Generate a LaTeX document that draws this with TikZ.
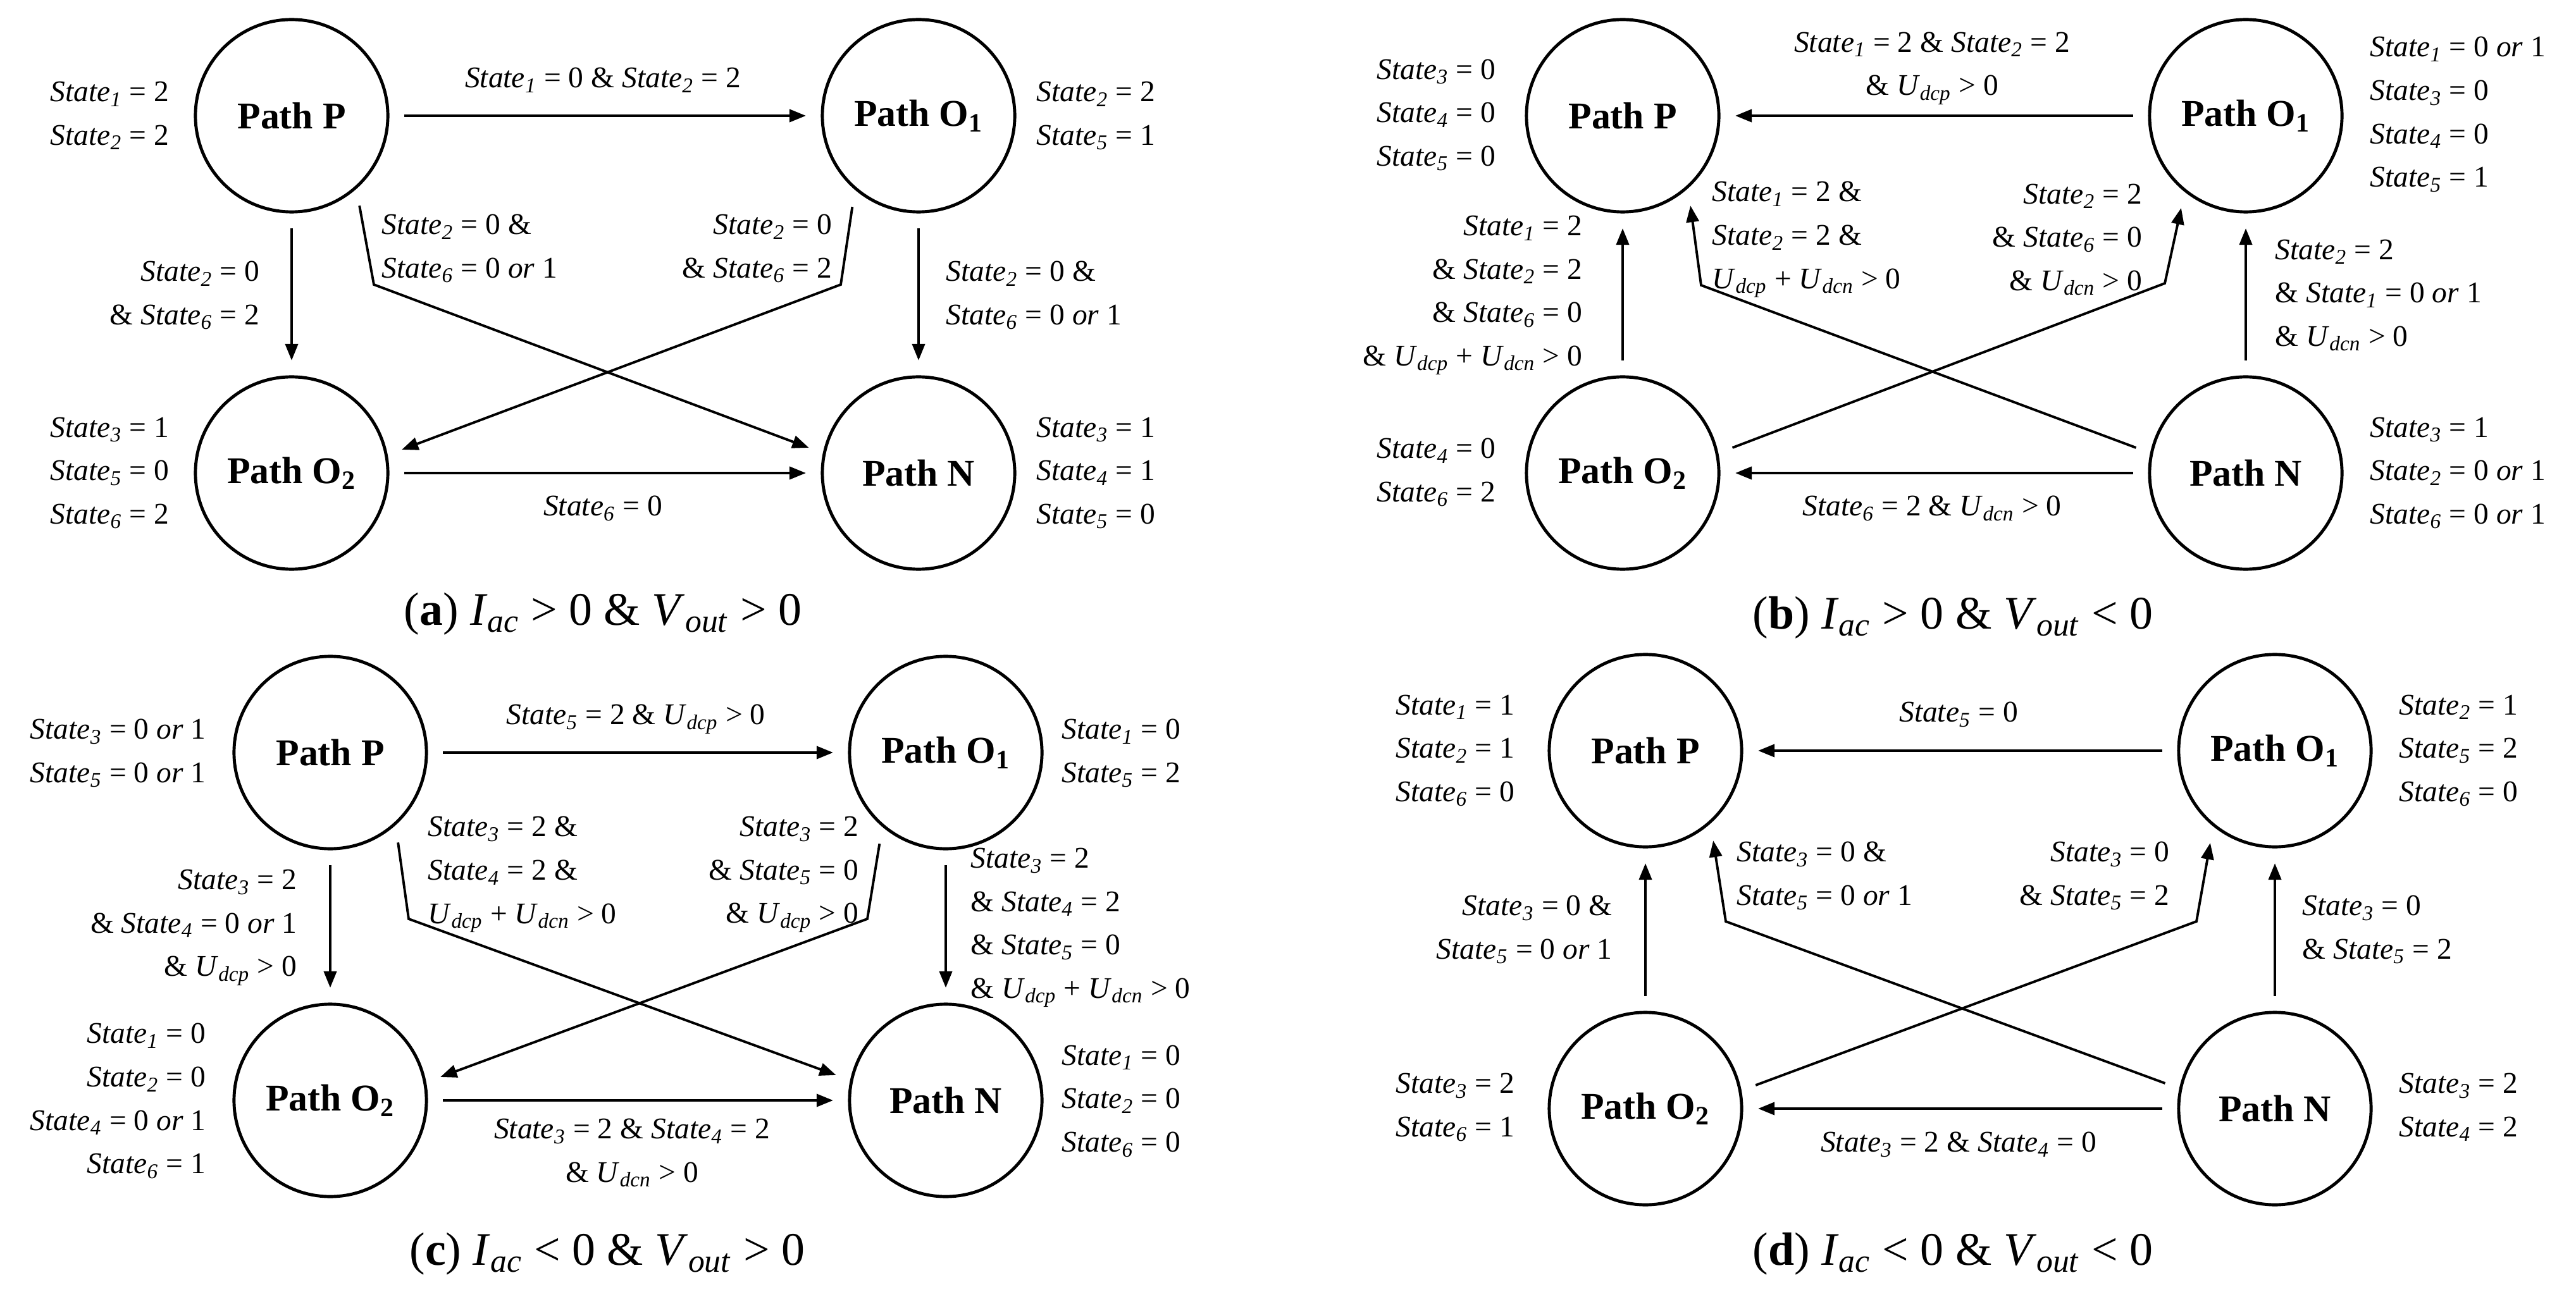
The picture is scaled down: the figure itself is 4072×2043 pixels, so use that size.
\documentclass[tikz,border=0pt]{standalone}
\usepackage{fontspec}
\setmainfont{Liberation Serif}
\usetikzlibrary{arrows.meta}
\newcommand\St[1]{\textit{State}\textsubscript{\textit{#1}}}
\newcommand\Uu[1]{\textit{U}\textsubscript{\textit{#1}}}
\newcommand\orr{\textit{or}}
\begin{document}
\begin{tikzpicture}[x=0.01cm,y=-0.01cm,
 circ/.style={circle,draw,line width=1.4pt,minimum size=3.04cm,inner sep=0pt,outer sep=0.26cm,font=\bfseries\fontsize{17}{20}\selectfont},
 arr/.style={line width=1.1pt,-{Triangle[length=0.26cm,width=0.2cm]}},
 lab/.style={font=\fontsize{13.5}{19.5}\selectfont,inner sep=0pt},
 R/.style={lab,align=right,anchor=east},
 L/.style={lab,align=left,anchor=west},
 C/.style={lab,align=center},
 capt/.style={font=\fontsize{21}{24}\selectfont,inner sep=0pt}]
\useasboundingbox (0,0) rectangle (4072,2043);
% ---------- (a)
\node[circ] (aP) at (461,183) {Path P};
\node[circ] (aO1) at (1452,183) {Path O\textsubscript{1}};
\node[circ] (aO2) at (461,748) {Path O\textsubscript{2}};
\node[circ] (aN) at (1452,748) {Path N};
\coordinate (ab1) at (591,450);
\coordinate (ab2) at (1329,450);
\draw[arr] (aP) -- (aO1);
\draw[arr] (aP) -- (aO2);
\draw[arr] (aO1) -- (aN);
\draw[arr] (aO2) -- (aN);
\draw[arr] (aP.-53.4) -- (ab1) -- (aN.167.4);
\draw[arr] (aO1.-126) -- (ab2) -- (aO2.12);
\node[C] (at1) at (953,127) {\St{1} = 0 \& \St{2} = 2};
\node[R] (at2) at (268,183) {\St{1} = 2\\\St{2} = 2};
\node[L] (at3) at (1638,183) {\St{2} = 2\\\St{5} = 1};
\node[R] (at4) at (268,748) {\St{3} = 1\\\St{5} = 0\\\St{6} = 2};
\node[L] (at5) at (1638,748) {\St{3} = 1\\\St{4} = 1\\\St{5} = 0};
\node[R] (at6) at (411,467) {\St{2} = 0\\\& \St{6} = 2};
\node[L] (at7) at (1495,467) {\St{2} = 0 \&\\\St{6} = 0 \orr{} 1};
\node[L] (at8) at (603,393) {\St{2} = 0 \&\\\St{6} = 0 \orr{} 1};
\node[R] (at9) at (1316,393) {\St{2} = 0\\\& \St{6} = 2};
\node[C] (at10) at (953,804) {\St{6} = 0};
\node[capt] (acap) at (953,971) {(\textbf{a}) \textit{I}\textsubscript{\textit{ac}} > 0 \& \textit{V}\textsubscript{\textit{out}} > 0};
% ---------- (b)
\node[circ] (bP) at (2565,183) {Path P};
\node[circ] (bO1) at (3550,183) {Path O\textsubscript{1}};
\node[circ] (bO2) at (2565,748) {Path O\textsubscript{2}};
\node[circ] (bN) at (3550,748) {Path N};
\coordinate (bb1) at (2689,451);
\coordinate (bb2) at (3422,448);
\draw[arr] (bO1) -- (bP);
\draw[arr] (bO2) -- (bP);
\draw[arr] (bN) -- (bO1);
\draw[arr] (bN) -- (bO2);
\draw[arr] (bN.167) -- (bb1) -- (bP.-53.4);
\draw[arr] (bO2.13) -- (bb2) -- (bO1.-125.3);
\node[C] (bt1) at (3054,108) {\St{1} = 2 \& \St{2} = 2\\\& \Uu{dcp} > 0};
\node[R] (bt2) at (2365,182) {\St{3} = 0\\\St{4} = 0\\\St{5} = 0};
\node[L] (bt3) at (3746,181) {\St{1} = 0 \orr{} 1\\\St{3} = 0\\\St{4} = 0\\\St{5} = 1};
\node[R] (bt4) at (2502,467) {\St{1} = 2\\\& \St{2} = 2\\\& \St{6} = 0\\\& \Uu{dcp} + \Uu{dcn} > 0};
\node[L] (bt5) at (2706,379) {\St{1} = 2 \&\\\St{2} = 2 \&\\\Uu{dcp} + \Uu{dcn} > 0};
\node[R] (bt6) at (3387,379) {\St{2} = 2\\\& \St{6} = 0\\\& \Uu{dcn} > 0};
\node[L] (bt7) at (3596,467) {\St{2} = 2\\\& \St{1} = 0 \orr{} 1\\\& \Uu{dcn} > 0};
\node[R] (bt8) at (2365,747) {\St{4} = 0\\\St{6} = 2};
\node[L] (bt9) at (3746,748) {\St{3} = 1\\\St{2} = 0 \orr{} 1\\\St{6} = 0 \orr{} 1};
\node[C] (bt10) at (3054,804) {\St{6} = 2 \& \Uu{dcn} > 0};
\node[capt] (bcap) at (3087,977) {(\textbf{b}) \textit{I}\textsubscript{\textit{ac}} > 0 \& \textit{V}\textsubscript{\textit{out}} < 0};
% ---------- (c)
\node[circ] (cP) at (522,1190) {Path P};
\node[circ] (cO1) at (1495,1190) {Path O\textsubscript{1}};
\node[circ] (cO2) at (522,1740) {Path O\textsubscript{2}};
\node[circ] (cN) at (1495,1740) {Path N};
\coordinate (cb1) at (646,1453);
\coordinate (cb2) at (1371,1453);
\draw[arr] (cP) -- (cO1);
\draw[arr] (cP) -- (cO2);
\draw[arr] (cO1) -- (cN);
\draw[arr] (cO2) -- (cN);
\draw[arr] (cP.-53.1) -- (cb1) -- (cN.167.7);
\draw[arr] (cO1.-126.5) -- (cb2) -- (cO2.12.3);
\node[C] (ct1) at (1005,1137) {\St{5} = 2 \& \Uu{dcp} > 0};
\node[R] (ct2) at (326,1191) {\St{3} = 0 \orr{} 1\\\St{5} = 0 \orr{} 1};
\node[L] (ct3) at (1678,1191) {\St{1} = 0\\\St{5} = 2};
\node[R] (ct4) at (470,1467) {\St{3} = 2\\\& \St{4} = 0 \orr{} 1\\\& \Uu{dcp} > 0};
\node[L] (ct5) at (676,1383) {\St{3} = 2 \&\\\St{4} = 2 \&\\\Uu{dcp} + \Uu{dcn} > 0};
\node[R] (ct6) at (1358,1383) {\St{3} = 2\\\& \St{5} = 0\\\& \Uu{dcp} > 0};
\node[L] (ct7) at (1534,1467) {\St{3} = 2\\\& \St{4} = 2\\\& \St{5} = 0\\\& \Uu{dcp} + \Uu{dcn} > 0};
\node[R] (ct8) at (326,1741) {\St{1} = 0\\\St{2} = 0\\\St{4} = 0 \orr{} 1\\\St{6} = 1};
\node[L] (ct9) at (1678,1741) {\St{1} = 0\\\St{2} = 0\\\St{6} = 0};
\node[C] (ct10) at (999,1823) {\St{3} = 2 \& \St{4} = 2\\\& \Uu{dcn} > 0};
\node[capt] (ccap) at (960,1983) {(\textbf{c}) \textit{I}\textsubscript{\textit{ac}} < 0 \& \textit{V}\textsubscript{\textit{out}} > 0};
% ---------- (d)
\node[circ] (dP) at (2601,1187) {Path P};
\node[circ] (dO1) at (3596,1187) {Path O\textsubscript{1}};
\node[circ] (dO2) at (2601,1753) {Path O\textsubscript{2}};
\node[circ] (dN) at (3596,1753) {Path N};
\coordinate (db1) at (2728,1457);
\coordinate (db2) at (3472,1457);
\draw[arr] (dO1) -- (dP);
\draw[arr] (dO2) -- (dP);
\draw[arr] (dN) -- (dO1);
\draw[arr] (dN) -- (dO2);
\draw[arr] (dN.167.1) -- (db1) -- (dP.-53);
\draw[arr] (dO2.12.4) -- (db2) -- (dO1.-125.5);
\node[C] (dt1) at (3096,1130) {\St{5} = 0};
\node[R] (dt2) at (2395,1187) {\St{1} = 1\\\St{2} = 1\\\St{6} = 0};
\node[L] (dt3) at (3792,1187) {\St{2} = 1\\\St{5} = 2\\\St{6} = 0};
\node[R] (dt4) at (2549,1470) {\St{3} = 0 \&\\\St{5} = 0 \orr{} 1};
\node[L] (dt5) at (2745,1385) {\St{3} = 0 \&\\\St{5} = 0 \orr{} 1};
\node[R] (dt6) at (3430,1385) {\St{3} = 0\\\& \St{5} = 2};
\node[L] (dt7) at (3639,1470) {\St{3} = 0\\\& \St{5} = 2};
\node[R] (dt8) at (2395,1751) {\St{3} = 2\\\St{6} = 1};
\node[L] (dt9) at (3792,1751) {\St{3} = 2\\\St{4} = 2};
\node[C] (dt10) at (3096,1810) {\St{3} = 2 \& \St{4} = 0};
\node[capt] (dcap) at (3087,1983) {(\textbf{d}) \textit{I}\textsubscript{\textit{ac}} < 0 \& \textit{V}\textsubscript{\textit{out}} < 0};
\end{tikzpicture}
\end{document}
